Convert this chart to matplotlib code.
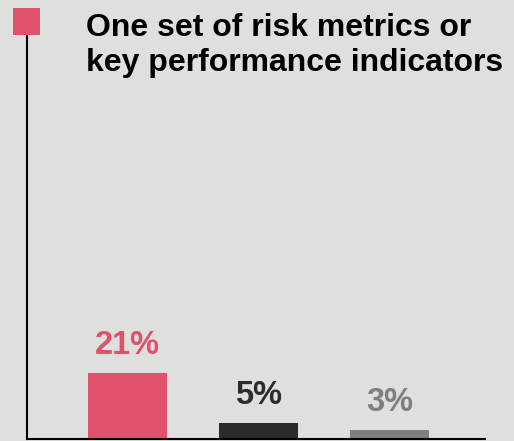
import matplotlib.pyplot as plt
from matplotlib.patches import Rectangle

# data
categories = ['A', 'B', 'C']
values = [21, 5, 3]
labels = ['21%', '5%', '3%']
bar_colors = ['#E0526B', '#2B2D2C', '#7F7F7D']
label_colors = ['#E0526B', '#2B2D2C', '#7F7F7D']
title_lines = ['One set of risk metrics or', 'key performance indicators']

W, H = 514, 441
bg = '#DFDFDE'
plt.rcParams['font.family'] = ['Liberation Sans', 'DejaVu Sans']

fig = plt.figure(figsize=(W / 100, H / 100), dpi=100, facecolor=bg)

# axes box in pixel terms: left 27, right 485, top 35, bottom 439
ax = fig.add_axes([27 / W, 2 / H, (485 - 27) / W, (439 - 35) / H])
ax.set_facecolor(bg)

x = range(len(categories))
ax.bar(x, values, width=0.6, color=bar_colors, zorder=2)
for xi, v, lab, c in zip(x, values, labels, label_colors):
    ax.annotate(lab, (xi, v), xytext=(0, 13.7), textcoords='offset points',
                ha='center', va='baseline', fontsize=23.5, fontweight='bold', color=c)

ax.set_xlim(-0.767, 2.729)
ax.set_ylim(0, 128.5)
for s in ['top', 'right']:
    ax.spines[s].set_visible(False)
for s in ['left', 'bottom']:
    ax.spines[s].set_linewidth(1.5)
    ax.spines[s].set_color('black')
ax.set_xticks([])
ax.set_yticks([])

# pink square marker on top of axis
fig.patches.append(Rectangle((13 / W, 1 - 35 / H), 27 / W, 27 / H,
                             transform=fig.transFigure, facecolor='#E0526B',
                             edgecolor='none'))

fig.text(86 / W, 1 - 35.5 / H, title_lines[0], fontsize=23, fontweight='bold',
         va='baseline', ha='left', color='black')
fig.text(86 / W, 1 - 71.5 / H, title_lines[1], fontsize=23, fontweight='bold',
         va='baseline', ha='left', color='black')

fig.savefig('out.png', dpi=100, facecolor=bg)
